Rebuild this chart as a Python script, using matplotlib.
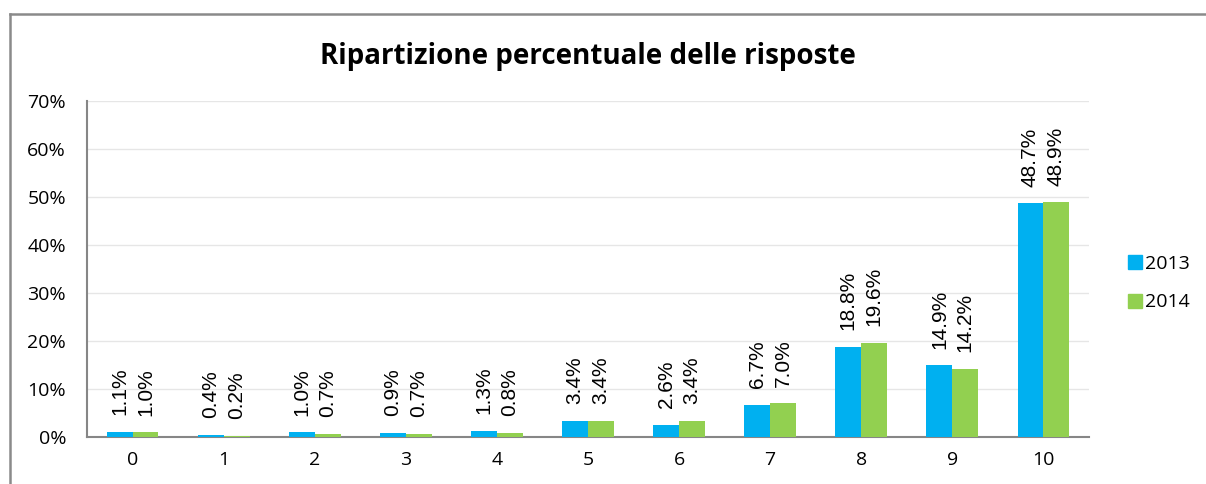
import numpy as np
import matplotlib
matplotlib.use('Agg')
import matplotlib.pyplot as plt
from matplotlib.lines import Line2D

# data
categories = ['0', '1', '2', '3', '4', '5', '6', '7', '8', '9', '10']
series_names = ['2013', '2014']
values_2013 = [1.1, 0.4, 1.0, 0.9, 1.3, 3.4, 2.6, 6.7, 18.8, 14.9, 48.7]
values_2014 = [1.0, 0.2, 0.7, 0.7, 0.8, 3.4, 3.4, 7.0, 19.6, 14.2, 48.9]
yticks = [0, 10, 20, 30, 40, 50, 60, 70]

plt.rcParams['font.family'] = ['Open Sans', 'DejaVu Sans']

fig = plt.figure(figsize=(12.06, 4.84), dpi=100)
ax = fig.add_axes([0.0721, 0.0971, 0.8309, 0.6942])

x = np.arange(len(categories))
w = 0.285
colors = ['#00B0F0', '#92D050']
for i, (vals, name) in enumerate(zip([values_2013, values_2014], series_names)):
    pos = x + (i - 0.5) * w
    ax.bar(pos, vals, width=w, color=colors[i], label=name, zorder=3)
    for px, v in zip(pos, vals):
        ax.annotate('%.1f%%' % v, (px, v), xytext=(0, 12), textcoords='offset points',
                    rotation=90, ha='center', va='bottom', fontsize=15,
                    family=['Liberation Sans', 'DejaVu Sans'], color='black')

ax.set_xlim(-0.5, len(categories) - 0.5)
ax.set_ylim(0, 70)
ax.set_xticks(x)
ax.set_xticklabels(categories)
ax.set_yticks(yticks)
ax.set_yticklabels(['%d%%' % t for t in yticks])
ax.tick_params(axis='both', length=0, labelsize=14, colors='black')
ax.tick_params(axis='x', pad=10)
ax.tick_params(axis='y', pad=15)
ax.grid(axis='y', color='#E6E6E6', linewidth=1, zorder=0)
for s in ['top', 'right']:
    ax.spines[s].set_visible(False)
for s in ['left', 'bottom']:
    ax.spines[s].set_color('#868686')
    ax.spines[s].set_linewidth(1.5)

ax.set_title('Ripartizione percentuale delle risposte', fontsize=20, fontweight='bold',
             y=1.0, pad=27)

handles = [Line2D([], [], marker='s', linestyle='none', markersize=10,
                  markerfacecolor=c, markeredgecolor=c) for c in colors]
fig.legend(handles, series_names, loc='center left', bbox_to_anchor=(0.92, 0.415),
           frameon=False, fontsize=14, handletextpad=0.1, labelspacing=1.05,
           handlelength=0.8)

# outer chart border
fig.add_artist(Line2D([0.0085, 0.0085], [0.0, 0.972], transform=fig.transFigure,
                      color='#8A8A8A', linewidth=1.8))
fig.add_artist(Line2D([0.0085, 1.0], [0.972, 0.972], transform=fig.transFigure,
                      color='#8A8A8A', linewidth=1.8))

fig.savefig('out.png', dpi=100)
